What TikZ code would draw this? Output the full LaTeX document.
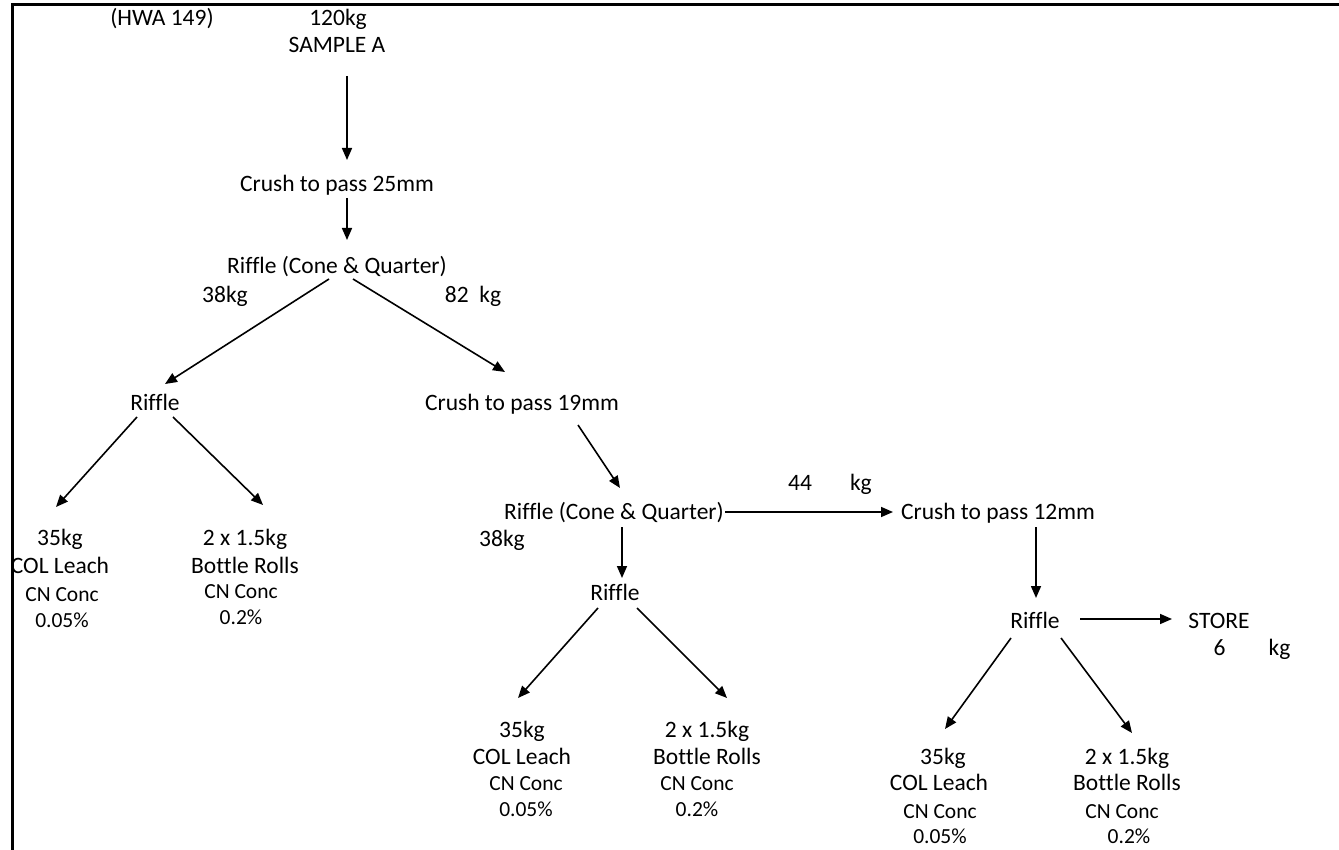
\documentclass[tikz,border=0pt]{standalone}
\usepackage{fontspec}
\setmainfont{Carlito}[Ligatures=NoCommon]
\usetikzlibrary{arrows.meta,calc}
\tikzset{
 lbl/.style={inner sep=0pt, font=\fontsize{23.5}{28}\selectfont, text height=20pt, text depth=5pt},
 sml/.style={inner sep=0pt, font=\fontsize{21.5}{26}\selectfont, text height=18.3pt, text depth=4.5pt},
 arr/.style={line width=1.6pt, -{Triangle[length=12pt,width=10pt]}},
 frameline/.style={line width=3pt, line join=miter}
}
\begin{document}
\begin{tikzpicture}[x=1pt,y=-1pt]
\useasboundingbox (0,0) rectangle (1339,850);
\fill[white] (0,0) rectangle (1339,850);

% top
\node[lbl] (hwa) at (162,18) {(HWA 149)};
\node[lbl] (kg120) at (338,18) {120kg};
\node[lbl] (sample) at (337,45) {SAMPLE A};
\node[lbl] (crush25) at (337,184) {Crush to pass 25mm};
\node[lbl] (rcq1) at (337,266) {Riffle (Cone \& Quarter)};
\node[lbl] (kga) at (225,295) {38kg};
\node[lbl] (kgb) at (473,295) {82\ \ kg};
\node[lbl] (riffleA) at (155,403) {Riffle};
\node[lbl] (crush19) at (522,403) {Crush to pass 19mm};

% group 1
\node[lbl] (l1a) at (60,538) {35kg};
\node[lbl] (l1b) at (60,566) {COL Leach};
\node[sml] (l1c) at (62,595) {CN Conc};
\node[sml] (l1d) at (62,621) {0.05\%};
\node[lbl] (r1a) at (245,538) {2 x 1.5kg};
\node[lbl] (r1b) at (245,566) {Bottle Rolls};
\node[sml] (r1c) at (241,592) {CN Conc};
\node[sml] (r1d) at (241,618) {0.2\%};

% middle
\node[lbl] (rcq2) at (614,512) {Riffle (Cone \& Quarter)};
\node[lbl] (kgc) at (502,539) {38kg};
\node[lbl] (kg44) at (830,483) {44\hspace{38pt}kg};
\node[lbl] (crush12) at (998,512) {Crush to pass 12mm};
\node[lbl] (riffleB) at (615,593) {Riffle};
\node[lbl] (riffleC) at (1035,621) {Riffle};
\node[lbl] (store) at (1219,621) {STORE};
\node[lbl] (kg6) at (1252,648) {6\hspace{43pt}kg};

% group 2
\node[lbl] (l2a) at (522,730) {35kg};
\node[lbl] (l2b) at (522,757) {COL Leach};
\node[sml] (l2c) at (526,784) {CN Conc};
\node[sml] (l2d) at (526,810) {0.05\%};
\node[lbl] (r2a) at (707,730) {2 x 1.5kg};
\node[lbl] (r2b) at (707,757) {Bottle Rolls};
\node[sml] (r2c) at (697,784) {CN Conc};
\node[sml] (r2d) at (697,810) {0.2\%};

% group 3
\node[lbl] (l3a) at (943,757) {35kg};
\node[lbl] (l3b) at (939,783) {COL Leach};
\node[sml] (l3c) at (940,812) {CN Conc};
\node[sml] (l3d) at (940,837) {0.05\%};
\node[lbl] (r3a) at (1127,757) {2 x 1.5kg};
\node[lbl] (r3b) at (1127,783) {Bottle Rolls};
\node[sml] (r3c) at (1122,812) {CN Conc};
\node[sml] (r3d) at (1129,837) {0.2\%};

% connectors
\draw[arr] ($(sample)+(10,31)$) -- ($(crush25)+(10,-24)$);
\draw[arr] ($(crush25)+(10,14)$) -- ($(rcq1)+(10,-26)$);
\draw[arr] ($(rcq1)+(-8,13)$) -- ($(riffleA)+(10,-19)$);
\draw[arr] ($(rcq1)+(16,13)$) -- ($(crush19)+(-17,-31)$);
\draw[arr] ($(riffleA)+(-18,14)$) -- ($(l1a)+(-4,-31)$);
\draw[arr] ($(riffleA)+(18,14)$) -- ($(r1a)+(18,-33)$);
\draw[arr] ($(crush19)+(56,22)$) -- ($(rcq2)+(6,-24)$);
\draw[arr] ($(rcq2)+(111,0)$) -- ($(crush12)+(-105,0)$);
\draw[arr] ($(rcq2)+(8,15)$) -- ($(riffleB)+(7,-15)$);
\draw[arr] ($(riffleB)+(-17,15)$) -- ($(l2a)+(-4,-32)$);
\draw[arr] ($(riffleB)+(22,15)$) -- ($(r2a)+(20,-32)$);
\draw[arr] ($(crush12)+(38,15)$) -- ($(riffleC)+(1,-23)$);
\draw[arr] ($(riffleC)+(45,-2)$) -- ($(store)+(-47,-2)$);
\draw[arr] ($(riffleC)+(-24,17)$) -- ($(l3a)+(2,-28)$);
\draw[arr] ($(riffleC)+(26,17)$) -- ($(r3a)+(5,-24)$);

% frame
\draw[frameline] (12,850) -- (12,5) -- (1339,5);
\end{tikzpicture}
\end{document}
